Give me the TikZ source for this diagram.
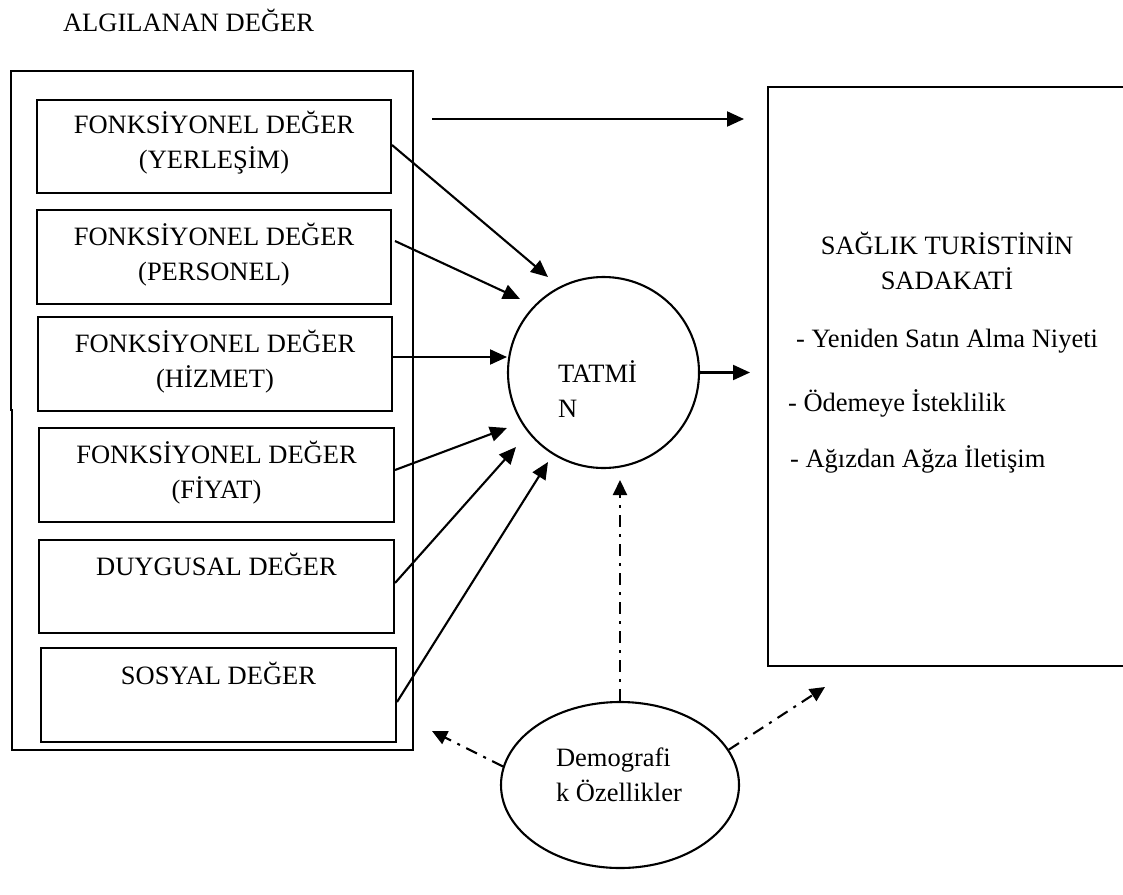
\documentclass[tikz,border=0pt]{standalone}
\usepackage{fontspec}
\setmainfont{Liberation Serif}
\usetikzlibrary{arrows.meta,shapes.geometric}
\newcommand{\mytwolines}[3]{\begin{tabular}[t]{@{}#1@{}}#2\\#3\end{tabular}}
\begin{document}
\begin{tikzpicture}[x=1pt,y=-1pt,line width=2.1pt,
  font=\fontsize{26.5}{35}\selectfont,
  box/.style={draw,rectangle,inner sep=0pt,line width=2.1pt},
  txt/.style={inner sep=0pt,anchor=base},
  txtw/.style={inner sep=0pt,anchor=base west},
  arr/.style={-{Triangle[length=17pt,width=15pt]},line width=2.1pt},
  dd/.style={dash pattern=on 12pt off 7pt on 3pt off 7pt,-{Triangle[length=15pt,width=14pt]},line width=2.1pt}]
\useasboundingbox (0,0) rectangle (1123,894);
% title
\node[txtw] (title) at (62,31) {ALGILANAN DEĞER};
% outer container
\draw (11,410) -- (11,71) -- (413,71) -- (413,750) -- (12,750) -- (12,410) -- cycle;
% inner boxes
\node[box,minimum width=354pt,minimum height=93pt] (b1) at (214,146.5) {};
\node[box,minimum width=354pt,minimum height=94pt] (b2) at (214,257) {};
\node[box,minimum width=354pt,minimum height=94pt] (b3) at (215,364) {};
\node[box,minimum width=355pt,minimum height=94pt] (b4) at (216.5,475) {};
\node[box,minimum width=355pt,minimum height=93pt] (b5) at (216.5,586.5) {};
\node[box,minimum width=355pt,minimum height=94pt] (b6) at (218.5,695) {};
\node[txt] (t1) at (214,133) {\mytwolines{c}{FONKSİYONEL DEĞER}{(YERLEŞİM)}};
\node[txt] (t2) at (214,245) {\mytwolines{c}{FONKSİYONEL DEĞER}{(PERSONEL)}};
\node[txt] (t3) at (215,352) {\mytwolines{c}{FONKSİYONEL DEĞER}{(HİZMET)}};
\node[txt] (t4) at (216.5,463) {\mytwolines{c}{FONKSİYONEL DEĞER}{(FİYAT)}};
\node[txt] (t5) at (216.5,575) {DUYGUSAL DEĞER};
\node[txt] (t6) at (218.5,684) {SOSYAL DEĞER};
% satisfaction circle
\node[circle,draw,minimum size=191pt,inner sep=0pt] (tat) at (603.5,372.5) {};
\node[txtw] (tatt) at (557,382) {\mytwolines{l}{TATMİ}{N}};
% loyalty box
\node[inner sep=0pt,minimum width=354pt,minimum height=577pt] (rb) at (946,376.5) {};
\draw (rb.north east) -- (rb.north west) -- (rb.south west) -- (rb.south east);
\node[txt] (rbt) at (947,254) {\mytwolines{c}{SAĞLIK TURİSTİNİN}{SADAKATİ}};
\node[txtw] (r1) at (795,347) {- Yeniden Satın Alma Niyeti};
\node[txtw] (r2) at (787,411) {- Ödemeye İsteklilik};
\node[txtw] (r3) at (789,467) {- Ağızdan Ağza İletişim};
% demographics ellipse
\node[ellipse,draw,minimum width=238pt,minimum height=166pt,inner sep=0pt] (dem) at (620,785) {};
\node[txtw] (demt) at (555,766) {\mytwolines{l}{Demografi}{k Özellikler}};
% connector coordinates
\coordinate (s1) at (392,145);  \coordinate (e1) at (548,277);
\coordinate (s2) at (395,241);  \coordinate (e2) at (520,299);
\coordinate (s3) at (392,357);  \coordinate (e3) at (507,357);
\coordinate (s4) at (395,470);  \coordinate (e4) at (507,428);
\coordinate (s5) at (395,583);  \coordinate (e5) at (516,447);
\coordinate (s6) at (397,702);  \coordinate (e6) at (548,462);
\coordinate (s7) at (432,119);  \coordinate (e7) at (744,119);
\coordinate (e8) at (750,372.5);
\coordinate (e9) at (620,480);
\coordinate (e10) at (432,731);
\coordinate (e11) at (825,687);
% arrows
\draw[arr] (s1) -- (e1);
\draw[arr] (s2) -- (e2);
\draw[arr] (s3) -- (e3);
\draw[arr] (s4) -- (e4);
\draw[arr] (s5) -- (e5);
\draw[arr] (s6) -- (e6);
\draw[arr] (s7) -- (e7);
\draw[arr] (tat.east) -- (e8);
\draw[dd] (dem.north) -- (e9);
\draw[dd] (dem.171) -- (e10);
\draw[dd] (dem.18) -- (e11);
\end{tikzpicture}
\end{document}
